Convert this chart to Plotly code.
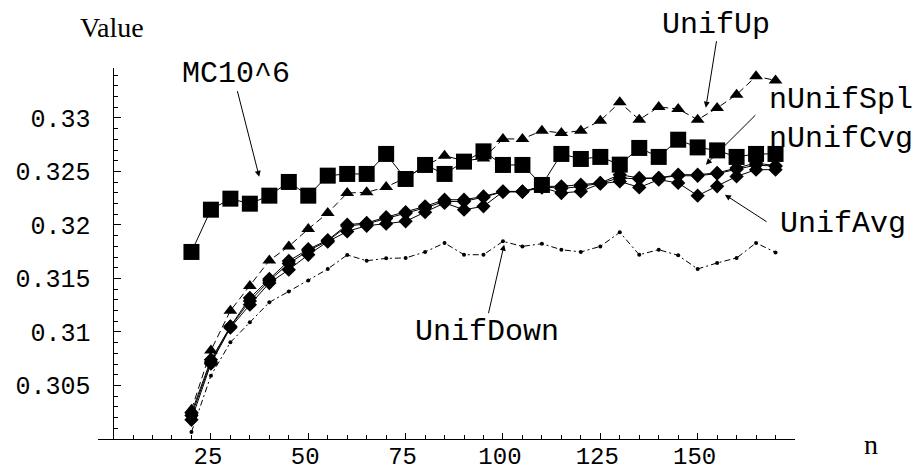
import plotly.graph_objects as go

n_vals = list(range(20, 171, 5))

unif_up = [0.30274, 0.30828, 0.31199, 0.31430, 0.31668, 0.31800, 0.31963, 0.32112, 0.32299, 0.32305,
           0.32355, 0.32440, 0.32550, 0.32648, 0.32600, 0.32622, 0.32804, 0.32804, 0.32881, 0.32860,
           0.32881, 0.32975, 0.33146, 0.32984, 0.33103, 0.33084, 0.32984, 0.33093, 0.33218, 0.33389, 0.33351]

mc = [0.31748, 0.32143, 0.32246, 0.32199, 0.32274, 0.32402, 0.32274, 0.32461, 0.32477, 0.32477,
      0.32664, 0.32430, 0.32561, 0.32477, 0.32592, 0.32688, 0.32561, 0.32561, 0.32374, 0.32664,
      0.32617, 0.32636, 0.32564, 0.32720, 0.32636, 0.32797, 0.32725, 0.32697, 0.32636, 0.32664, 0.32664]

n_unif_spl = [0.30246, 0.30741, 0.31052, 0.31318, 0.31495, 0.31664, 0.31774, 0.31858, 0.32003, 0.32019,
              0.32073, 0.32120, 0.32174, 0.32236, 0.32236, 0.32267, 0.32314, 0.32314, 0.32361, 0.32361,
              0.32377, 0.32393, 0.32470, 0.32439, 0.32439, 0.32470, 0.32470, 0.32486, 0.32533, 0.32579, 0.32554]

n_unif_cvg = [0.30220, 0.30720, 0.31050, 0.31290, 0.31480, 0.31640, 0.31760, 0.31850, 0.31990, 0.32010,
              0.32060, 0.32110, 0.32160, 0.32220, 0.32220, 0.32260, 0.32310, 0.32310, 0.32360, 0.32340,
              0.32360, 0.32390, 0.32440, 0.32430, 0.32440, 0.32460, 0.32460, 0.32480, 0.32520, 0.32560, 0.32550]

unif_avg = [0.30180, 0.30704, 0.31040, 0.31255, 0.31458, 0.31582, 0.31722, 0.31844, 0.31940, 0.31993,
            0.32012, 0.32034, 0.32120, 0.32206, 0.32143, 0.32174, 0.32311, 0.32311, 0.32349, 0.32299,
            0.32314, 0.32386, 0.32407, 0.32351, 0.32423, 0.32393, 0.32274, 0.32361, 0.32454, 0.32517, 0.32517]

unif_down = [0.30065, 0.30592, 0.30903, 0.31090, 0.31277, 0.31379, 0.31482, 0.31589, 0.31720, 0.31666,
             0.31688, 0.31692, 0.31748, 0.31832, 0.31722, 0.31722, 0.31847, 0.31800, 0.31825, 0.31769,
             0.31748, 0.31800, 0.31931, 0.31722, 0.31769, 0.31716, 0.31589, 0.31645, 0.31692, 0.31832, 0.31744]

x_tick_vals = [25, 50, 75, 100, 125, 150]
x_tick_text = ["25", "50", "75", "100", "125", "150"]
y_tick_vals = [0.305, 0.31, 0.315, 0.32, 0.325, 0.33]
y_tick_text = ["0.305", "0.31", "0.315", "0.32", "0.325", "0.33"]

MONO = "Liberation Mono, Courier New, monospace"
SERIF = "Liberation Serif, Times New Roman, serif"

fig = go.Figure()

fig.add_trace(go.Scatter(x=n_vals, y=unif_up, mode="lines+markers", name="UnifUp",
                         line=dict(color="black", width=1, dash="7px,4px"),
                         marker=dict(symbol="triangle-up", size=12, color="black")))
fig.add_trace(go.Scatter(x=n_vals, y=n_unif_cvg, mode="lines+markers", name="nUnifCvg",
                         line=dict(color="black", width=1),
                         marker=dict(symbol="diamond", size=11, color="black")))
fig.add_trace(go.Scatter(x=n_vals, y=n_unif_spl, mode="lines+markers", name="nUnifSpl",
                         line=dict(color="black", width=1),
                         marker=dict(symbol="diamond", size=11, color="black")))
fig.add_trace(go.Scatter(x=n_vals, y=unif_avg, mode="lines+markers", name="UnifAvg",
                         line=dict(color="black", width=1),
                         marker=dict(symbol="diamond", size=11, color="black")))
fig.add_trace(go.Scatter(x=n_vals, y=mc, mode="lines+markers", name="MC10^6",
                         line=dict(color="black", width=1),
                         marker=dict(symbol="square", size=16, color="black")))
fig.add_trace(go.Scatter(x=n_vals, y=unif_down, mode="lines+markers", name="UnifDown",
                         line=dict(color="black", width=1, dash="6px,3px,2px,3px"),
                         marker=dict(symbol="circle", size=4, color="black")))

# Arrow annotations (head at x,y; tail at ax,ay in data coordinates)
arrows = [
    dict(x=37.4, y=0.32451, ax=31.7, ay=0.33265),
    dict(x=152.1, y=0.33096, ax=154.9, ay=0.33732),
    dict(x=152.1, y=0.32564, ax=165.2, ay=0.33040),
    dict(x=157.0, y=0.32283, ax=168.1, ay=0.32021),
    dict(x=100.3, y=0.31816, ax=96.2, ay=0.31162),
]
for a in arrows:
    fig.add_annotation(x=a["x"], y=a["y"], ax=a["ax"], ay=a["ay"], xref="x", yref="y",
                       axref="x", ayref="y", text="", showarrow=True,
                       arrowhead=2, arrowsize=1.2, arrowwidth=1, arrowcolor="black")

labels = [
    ("MC10^6", 0.198, 0.985),
    ("UnifUp", 0.8867, 1.116),
    ("nUnifSpl", 1.0653, 0.9137),
    ("nUnifCvg", 1.0653, 0.8086),
    ("UnifAvg", 1.0689, 0.5795),
    ("UnifDown", 0.5588, 0.2884),
]
for t, px, py in labels:
    fig.add_annotation(x=px, y=py, xref="paper", yref="paper", text=t, showarrow=False,
                       font=dict(family=MONO, size=30, color="black"),
                       xanchor="center", yanchor="middle")

fig.add_annotation(x=0.0208, y=1.1105, xref="paper", yref="paper", text="Value", showarrow=False,
                   font=dict(family=SERIF, size=28, color="black"), xanchor="center", yanchor="middle")
fig.add_annotation(x=1.109, y=-0.0135, xref="paper", yref="paper", text="n", showarrow=False,
                   font=dict(family=SERIF, size=28, color="black"), xanchor="center", yanchor="middle")

fig.update_layout(
    width=913, height=474,
    margin=dict(l=98, r=118, t=68, b=35, pad=0, autoexpand=False),
    paper_bgcolor="white", plot_bgcolor="white",
    showlegend=False,
    xaxis=dict(range=[-4, 175], showgrid=False, zeroline=False, showline=True, automargin=False,
               linecolor="black", linewidth=1,
               tickmode="array", tickvals=x_tick_vals, ticktext=x_tick_text,
               ticks="inside", ticklen=6, tickwidth=1, tickcolor="black",
               ticklabelstandoff=-5, ticklabelshift=-3,
               tickfont=dict(family=MONO, size=24, color="black"),
               minor=dict(tickmode="linear", tick0=0, dtick=5, ticks="inside", ticklen=4,
                          tickcolor="black", tickwidth=1, showgrid=False)),
    yaxis=dict(range=[0.3, 0.33467], showgrid=False, zeroline=False, showline=True, automargin=False,
               linecolor="black", linewidth=1, anchor="free", position=0.0222,
               tickmode="array", tickvals=y_tick_vals, ticktext=y_tick_text,
               ticks="inside", ticklen=7, tickwidth=1, tickcolor="black",
               ticklabelstandoff=18,
               tickfont=dict(family=MONO, size=25, color="black"),
               minor=dict(tickmode="linear", tick0=0.3, dtick=0.001, ticks="inside", ticklen=4,
                          tickcolor="black", tickwidth=1, showgrid=False)),
)

fig.write_html("out.html")
